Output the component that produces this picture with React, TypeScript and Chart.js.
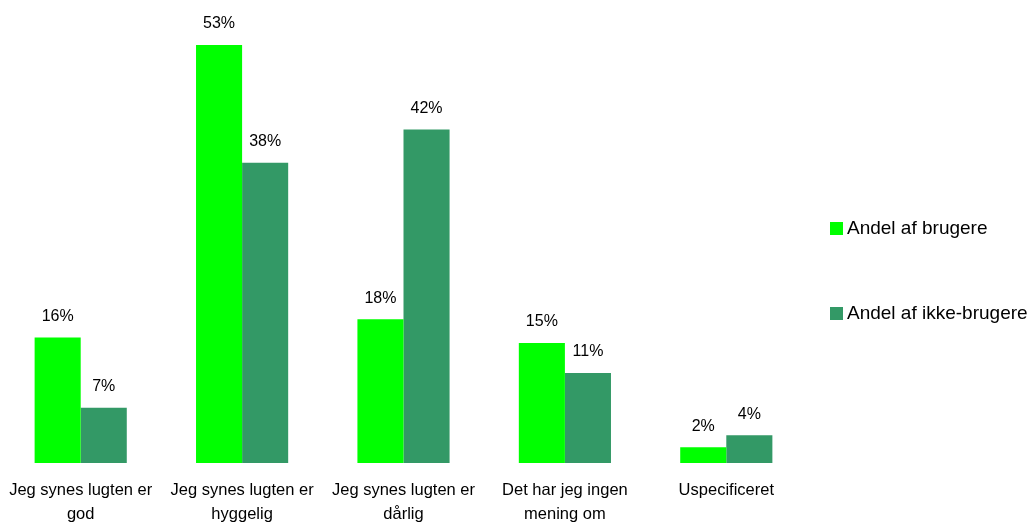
import React, { useEffect, useRef } from "react";
import { Chart, registerables } from "chart.js";

Chart.register(...registerables);

const categories: string[][] = [
  ["Jeg synes lugten er", "god"],
  ["Jeg synes lugten er", "hyggelig"],
  ["Jeg synes lugten er", "dårlig"],
  ["Det har jeg ingen", "mening om"],
  ["Uspecificeret"],
];
const seriesNames = ["Andel af brugere", "Andel af ikke-brugere"];
const brugere = [15.9, 52.9, 18.2, 15.2, 2.0];
const ikkeBrugere = [7.0, 38.0, 42.2, 11.4, 3.5];
const colors = ["#00FF00", "#339966"];

const FONT = '"Liberation Sans", Arial, Helvetica, sans-serif';

const labelPlugin = {
  id: "valueLabels",
  afterDatasetsDraw(chart: any) {
    const ctx = chart.ctx;
    ctx.save();
    ctx.font = `16px ${FONT}`;
    ctx.fillStyle = "#000";
    ctx.textAlign = "center";
    ctx.textBaseline = "middle";
    chart.data.datasets.forEach((ds: any, di: number) => {
      const meta = chart.getDatasetMeta(di);
      meta.data.forEach((el: any, i: number) => {
        const v = ds.data[i];
        ctx.fillText(Math.round(v) + "%", el.x, el.y - 21);
      });
    });
    ctx.restore();
  },
};

export default function App() {
  const ref = useRef<HTMLCanvasElement>(null);
  useEffect(() => {
    if (!ref.current) return;
    const chart = new Chart(ref.current, {
      type: "bar",
      data: {
        labels: categories,
        datasets: [
          { label: seriesNames[0], data: brugere, backgroundColor: colors[0] },
          { label: seriesNames[1], data: ikkeBrugere, backgroundColor: colors[1] },
        ],
      },
      options: {
        animation: false,
        responsive: true,
        maintainAspectRatio: false,
        layout: { padding: { top: 28.5, right: 225, left: 0, bottom: 0 } },
        datasets: { bar: { categoryPercentage: 0.571, barPercentage: 1 } } as any,
        plugins: { legend: { display: false }, tooltip: { enabled: false } },
        scales: {
          x: {
            grid: { display: false, drawTicks: false },
            border: { display: false },
            ticks: {
              padding: 15,
              color: "#000",
              maxRotation: 0,
              autoSkip: false,
              font: { family: FONT, size: 16.5, lineHeight: 24 / 16.5 },
            },
            afterFit: (s: any) => {
              s.height = 59;
              s.paddingLeft = 0;
              s.paddingRight = 0;
            },
          },
          y: { display: false, min: 0, max: 55 },
        },
      },
      plugins: [labelPlugin],
    });
    return () => chart.destroy();
  }, []);

  return (
    <div style={{ position: "absolute", left: 0, top: 0, width: 1032, height: 522, overflow: "hidden" }}>
      <canvas ref={ref} />
      <div style={{ position: "absolute", left: 830, top: 0, fontFamily: FONT, fontSize: 19, color: "#000" }}>
        {seriesNames.map((n, i) => (
          <div
            key={n}
            style={{ position: "absolute", top: i === 0 ? 216 : 301, display: "flex", alignItems: "center", whiteSpace: "nowrap", height: 24 }}
          >
            <span style={{ display: "inline-block", width: 13, height: 13, background: colors[i], marginRight: 4 }} />
            <span>{n}</span>
          </div>
        ))}
      </div>
    </div>
  );
}
